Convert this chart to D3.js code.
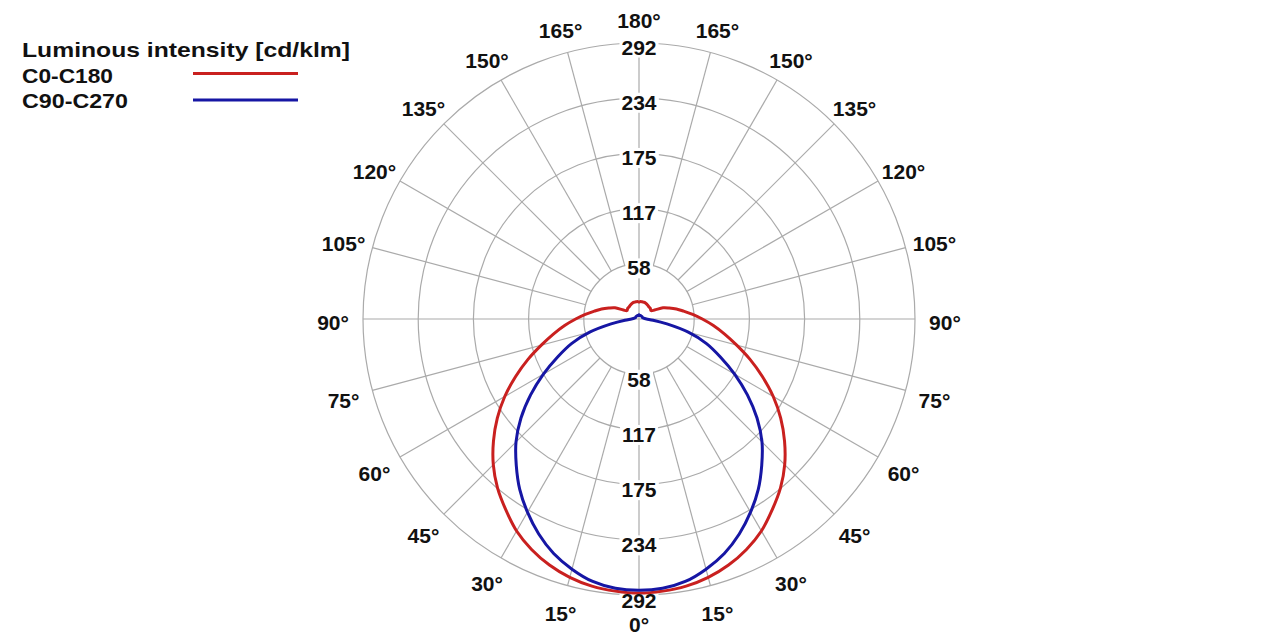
<!DOCTYPE html>
<html><head><meta charset="utf-8">
<script src="https://cdn.jsdelivr.net/npm/d3@7"></script>
<style>html,body{margin:0;padding:0;background:#fff;} svg{display:block;}</style>
</head><body>
<svg id="chart" width="1280" height="640"></svg>
<script>
// gamma angles (0 = straight down, 180 = straight up), degrees
const gammaAngles = [0,5,10,15,20,25,30,35,40,45,50,55,60,65,70,75,80,85,90,95,100,105,110,115,120,125,130,135,140,145,150,155,160,165,170,175,180];
// C0-C180 plane, cd/klm
const c0c180 = [290,289,287,283,277,269,259,246,233,218,201,183,164,144,125,107,92,79,67,57,48,41,34,28,19,15.5,16,16.5,16.5,17,17.5,18,18.5,18.5,18.5,18.5,18];
// C90-C270 plane, cd/klm
const c90c270 = [287,286,282,274,264,251,236,220,202,184,163,140,117,95,76,54,30,15,8,6,5,4.5,4,4,4,4,4,4,4,4,4,4,4,4,4,3.8,4.5];
const ringValues = [58.4,116.8,175.2,233.6,292];
const ringLabels = ["58","117","175","234","292"];
const angleLabels = [0,15,30,45,60,75,90,105,120,135,150,165,180];
const spokeAngles = [0,15,30,45,60,75,90,105,120,135,150,165,180,195,210,225,240,255,270,285,300,315,330,345];
const seriesNames = ["C0-C180","C90-C270"];
const seriesColors = ["#c9201f","#1616a4"];
const legendTitle = "Luminous intensity [cd/klm]";

const cx = 639, cy = 319, R = 276;
const svg = d3.select("#chart");
const r = d3.scaleLinear().domain([0, 292]).range([0, R]);
const rad = d => d * Math.PI / 180;
const FONT = "'Liberation Sans', Arial, sans-serif";

const g = svg.append("g").attr("transform", `translate(${cx},${cy})`);
const grid = g.append("g").attr("stroke", "#aaaaaa").attr("stroke-width", 1.2).attr("fill", "none");

// rings
grid.selectAll("circle").data(ringValues).join("circle").attr("r", d => r(d));
// spokes
grid.selectAll("line").data(spokeAngles).join("line")
  .attr("x1", d => (d % 90 === 0 ? 0 : r(ringValues[0])) * Math.sin(rad(d)))
  .attr("y1", d => (d % 90 === 0 ? 0 : r(ringValues[0])) * Math.cos(rad(d)))
  .attr("x2", d => r(292) * Math.sin(rad(d)))
  .attr("y2", d => r(292) * Math.cos(rad(d)));

// ring label positions
const ringLab = [];
ringValues.forEach((v, i) => {
  ringLab.push({y: -r(v) + 4, t: ringLabels[i]});
  ringLab.push({y: r(v) + 5, t: ringLabels[i]});
});
const bgs = g.append("g");
const textSize = 21;

// curves
function fullCurve(vals) {
  const pts = [];
  gammaAngles.forEach((a, i) => pts.push([Math.PI - rad(a), r(vals[i])]));
  for (let i = gammaAngles.length - 2; i > 0; i--) pts.push([Math.PI + rad(gammaAngles[i]), r(vals[i])]);
  return pts;
}
const lineGen = d3.lineRadial().curve(d3.curveCatmullRomClosed.alpha(0.5));
[c0c180, c90c270].forEach((vals, k) => {
  g.append("path").attr("d", lineGen(fullCurve(vals)))
    .attr("fill", "none").attr("stroke", seriesColors[k]).attr("stroke-width", 3)
    .attr("stroke-linejoin", "round");
});

// ring labels
const rl = g.append("g").attr("font-family", FONT).attr("font-weight", "bold").attr("font-size", textSize)
  .attr("fill", "#111").attr("text-anchor", "middle");
ringLab.forEach(d => {
  const t = rl.append("text").attr("x", 0).attr("y", d.y).attr("dy", "0.36em").text(d.t);
  const bb = t.node().getBBox();
  bgs.append("rect").attr("x", bb.x - 2).attr("y", bb.y + 2).attr("width", bb.width + 4).attr("height", bb.height - 3).attr("fill", "#fff");
});

// angle labels
const al = g.append("g").attr("font-family", FONT).attr("font-weight", "bold").attr("font-size", textSize)
  .attr("fill", "#111").attr("text-anchor", "middle");
const angLab = [];
angleLabels.forEach(a => {
  angLab.push(a);
  if (a !== 0 && a !== 180) angLab.push(-a);
});
al.selectAll("text").data(angLab).join("text")
  .attr("x", d => (302 + 4 * Math.abs(Math.sin(rad(d)))) * Math.sin(rad(d)))
  .attr("y", d => 302 * Math.cos(rad(d)) + 3)
  .attr("dy", "0.36em")
  .text(d => Math.abs(d) + "°");

// legend
const lg = svg.append("g").attr("font-family", FONT).attr("font-weight", "bold").attr("font-size", textSize).attr("fill", "#111");
lg.append("text").attr("x", 22).attr("y", 57).attr("textLength", 328).attr("lengthAdjust", "spacingAndGlyphs").text(legendTitle);
const legendWidths = [91, 106];
seriesNames.forEach((n, i) => {
  lg.append("text").attr("x", 22).attr("y", 83 + i * 25)
    .attr("textLength", legendWidths[i]).attr("lengthAdjust", "spacingAndGlyphs").text(n);
  lg.append("line").attr("x1", 193).attr("x2", 298).attr("y1", 73.5 + i * 26.5).attr("y2", 73.5 + i * 26.5)
    .attr("stroke", seriesColors[i]).attr("stroke-width", 3);
});
</script>
</body></html>
